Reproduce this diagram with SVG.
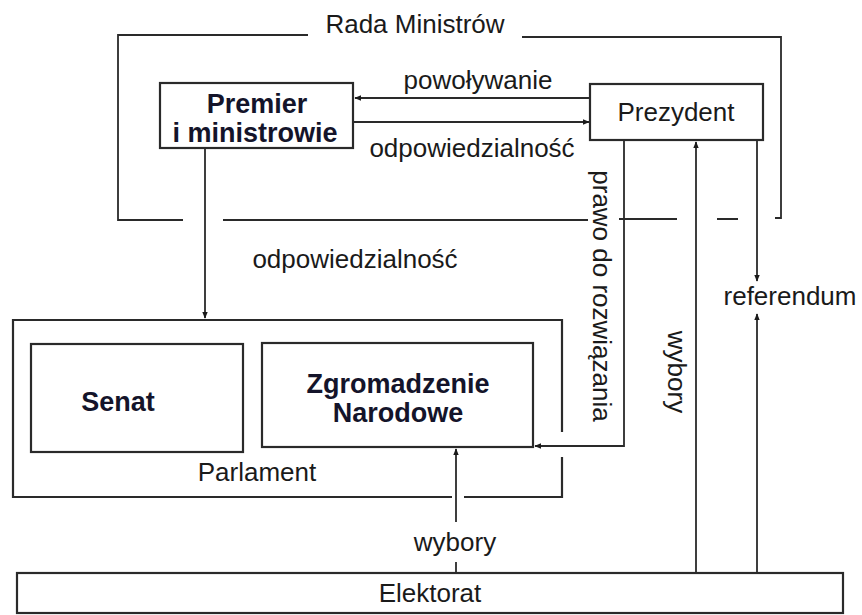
<svg xmlns="http://www.w3.org/2000/svg" width="862" height="615" viewBox="0 0 862 615">
<defs>
<style>
.box{fill:#fff;stroke:#2a2a2a;stroke-width:2.2}
.ln{fill:none;stroke:#2a2a2a;stroke-width:1.8}
.t{font-family:"Liberation Sans",Arial,sans-serif;font-size:26px;fill:#1a1a1a;text-anchor:middle}
.b{font-family:"Liberation Sans",Arial,sans-serif;font-size:27px;font-weight:bold;fill:#14142a;text-anchor:middle}
</style>
<marker id="ah" viewBox="0 0 10 10" refX="9" refY="5" markerWidth="7" markerHeight="7" orient="auto" markerUnits="userSpaceOnUse">
<path d="M0,1 L10,5 L0,9 z" fill="#1a1a1a"/>
</marker>
</defs>
<rect width="862" height="615" fill="#fff"/>
<g id="rada-ministrow">
<path class="ln" d="M308,35 H118 V220 H183"/>
<path class="ln" d="M522,37 H781 V218 H775"/>
<path class="ln" d="M223,220 H588 M619,219 H677 M717,219 H738"/>
<text class="t" x="415" y="33">Rada Ministrów</text>
</g>
<g id="premier">
<rect class="box" x="160" y="83" width="193" height="65"/>
<text class="b" x="257" y="113">Premier</text>
<text class="b" x="255" y="142">i ministrowie</text>
</g>
<g id="prezydent">
<rect class="box" x="590" y="84" width="173" height="56"/>
<text class="t" x="676" y="121">Prezydent</text>
</g>
<g id="parlament">
<path class="box" style="fill:none" d="M562,432 V320 H13 V497 H452 M464,497 H562 V457"/>
<text class="t" x="257" y="481">Parlament</text>
</g>
<g id="senat">
<rect class="box" x="31" y="344" width="212" height="108"/>
<text class="b" x="118" y="411">Senat</text>
</g>
<g id="zgromadzenie">
<rect class="box" x="262" y="343" width="271" height="104"/>
<text class="b" x="398" y="393">Zgromadzenie</text>
<text class="b" x="398" y="422">Narodowe</text>
</g>
<g id="elektorat">
<rect class="box" x="17" y="573" width="826" height="40"/>
<text class="t" x="430" y="602">Elektorat</text>
</g>
<g id="connectors">
<line class="ln" x1="590" y1="98" x2="355" y2="98" marker-end="url(#ah)"/>
<line class="ln" x1="354" y1="122" x2="589" y2="122" marker-end="url(#ah)"/>
<line class="ln" x1="205" y1="149" x2="205" y2="318" marker-end="url(#ah)"/>
<path class="ln" d="M624,141 V446 H535" marker-end="url(#ah)"/>
<line class="ln" x1="696" y1="573" x2="696" y2="142" marker-end="url(#ah)"/>
<line class="ln" x1="757" y1="141" x2="757" y2="281" marker-end="url(#ah)"/>
<line class="ln" x1="757" y1="573" x2="757" y2="314" marker-end="url(#ah)"/>
<line class="ln" x1="456" y1="522" x2="456" y2="449" marker-end="url(#ah)"/>
<line class="ln" x1="456" y1="573" x2="456" y2="562"/>
<text class="t" x="478" y="89">powoływanie</text>
<text class="t" x="472" y="157">odpowiedzialność</text>
<text class="t" x="355" y="268">odpowiedzialność</text>
<text class="t" x="790" y="305">referendum</text>
<text class="t" x="455" y="551">wybory</text>
<text class="t" transform="translate(602,296) rotate(90)" dominant-baseline="central">prawo do rozwiązania</text>
<text class="t" transform="translate(677,372) rotate(90)" dominant-baseline="central">wybory</text>
</g>
</svg>
